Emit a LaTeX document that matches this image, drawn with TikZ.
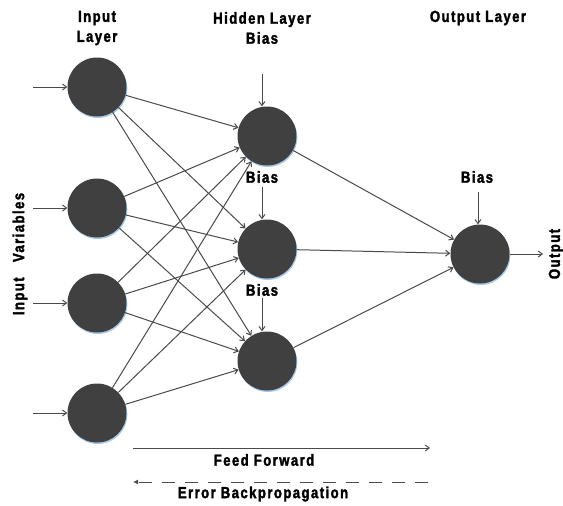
\documentclass[tikz,border=0pt]{standalone}
\usepackage{fontspec}
\setmainfont{Liberation Sans}[BoldFont={Liberation Sans Bold}, FakeStretch=0.82, LetterSpace=9, BoldFeatures={FakeBold=2}]
\usetikzlibrary{arrows.meta,shadows}
\definecolor{nodegray}{HTML}{404040}
\definecolor{edgegray}{HTML}{4A4A4A}
\definecolor{shadowblue}{HTML}{9CC3E8}
\begin{document}
\begin{tikzpicture}[x=1pt,y=-1pt,
  neuron/.style={circle,minimum size=59pt,inner sep=0pt,fill=nodegray,
    drop shadow={fill=shadowblue,shadow xshift=0.8pt,shadow yshift=-1.5pt,opacity=0.9}},
  conn/.style={draw=edgegray,line width=1pt,-{Straight Barb[length=4pt,width=6pt]}},
  lbl/.style={font=\bfseries\fontsize{16}{20}\selectfont,inner sep=0pt,align=center}
]
\useasboundingbox (0,0) rectangle (563,506);
% nodes
\node[neuron] (i1) at (97,87) {};
\node[neuron] (i2) at (97,208) {};
\node[neuron] (i3) at (97,303) {};
\node[neuron] (i4) at (97,413) {};
\node[neuron] (h1) at (267,136) {};
\node[neuron] (h2) at (267,249) {};
\node[neuron] (h3) at (267,361) {};
\node[neuron] (o) at (480,254) {};
% input stubs
\coordinate (a1) at (33,87);
\coordinate (a2) at (33,208);
\coordinate (a3) at (33,303);
\coordinate (a4) at (33,413);
\foreach \k in {1,2,3,4} \draw[conn] (a\k) -- (i\k);
% input to hidden
\foreach \i in {1,2,3,4}
  \foreach \h in {1,2,3}
    \draw[conn] (i\i) -- (h\h);
% hidden to output
\foreach \h in {1,2,3} \draw[conn] (h\h) -- (o);
% bias
\coordinate (b1) at (262,74);
\coordinate (b2) at (262,187);
\coordinate (b3) at (262,298);
\coordinate (b4) at (478,192);
\draw[conn] (b1) -- (h1.north -| b1);
\draw[conn] (b2) -- (h2.north -| b2);
\draw[conn] (b3) -- (h3.north -| b3);
\draw[conn] (b4) -- (o.north -| b4);
% output
\coordinate (out) at (543,254);
\draw[conn] (o) -- (out);
% labels
\node[lbl] (tin) at (97,28) {Input\\Layer};
\node[lbl] (thid) at (262,28) {Hidden Layer\\Bias};
\node[lbl] (tout) at (478,18) {Output Layer};
\node[lbl] (tb2) at (262,177) {Bias};
\node[lbl] (tb3) at (262,290) {Bias};
\node[lbl] (tb4) at (477,177) {Bias};
\node[lbl,rotate=90] (tvar) at (20,254) {Input\ \ \ Variables};
\node[lbl,rotate=90] (toutp) at (556,254) {Output};
% feed forward / backprop
\coordinate (ff1) at (133,448);
\coordinate (ff2) at (430,448);
\draw[conn] (ff1) -- (ff2);
\node[lbl] (tff) at (264,460) {Feed Forward};
\coordinate (bp1) at (428,482);
\coordinate (bp2) at (133,482);
\draw[draw=edgegray,line width=1pt,dash pattern=on 13pt off 10pt,-{Latex[length=5pt,width=5pt]}] (bp1) -- (bp2);
\node[lbl] (tbp) at (263,494) {Error Backpropagation};
\end{tikzpicture}
\end{document}
